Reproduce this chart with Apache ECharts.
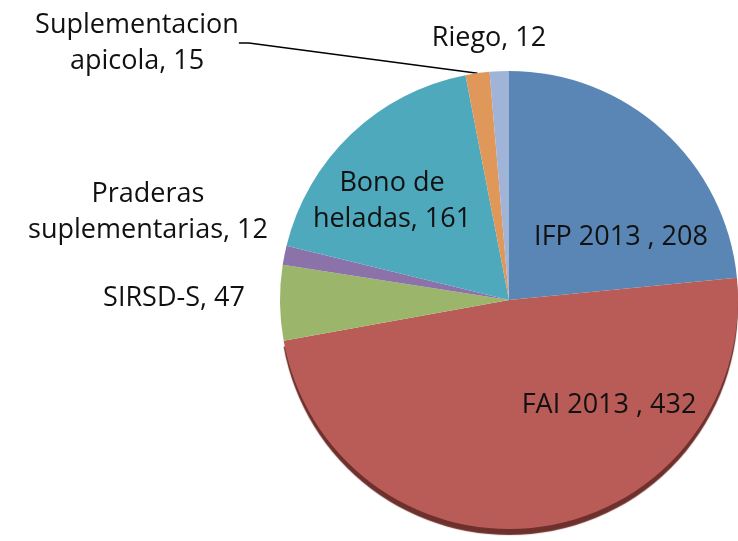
<!DOCTYPE html>
<html>
<head>
<meta charset="utf-8">
<script src="https://cdn.jsdelivr.net/npm/echarts@6/dist/echarts.min.js"></script>
<style>
  html, body { margin: 0; padding: 0; background: #fff; }
  #chart { width: 738px; height: 541px; }
</style>
</head>
<body>
<div id="chart"></div>
<script>
// datos del gráfico (sentido horario desde las 12)
const categories = ['IFP 2013 ', 'FAI 2013 ', 'SIRSD-S', 'Praderas\nsuplementarias', 'Bono de\nheladas', 'Suplementacion\napicola', 'Riego'];
const values = [208, 432, 47, 12, 161, 15, 12];
const colors = ['#5a86b5', '#b95c58', '#9bb56a', '#8b72a8', '#4ea9bd', '#e0975a', '#a0b4d8'];

// posición de cada etiqueta (centro del texto)
const labelPos = [
  [621, 237],
  [609, 405],
  [174, 298],
  [148, 212],
  [392, 201],
  [137, 43],
  [489, 38]
];

const chart = echarts.init(document.getElementById('chart'), null, { renderer: 'canvas' });

chart.setOption({
  animation: false,
  series: [{
    type: 'pie',
    center: [509, 300],
    radius: 229,
    startAngle: 90,
    clockwise: true,
    avoidLabelOverlap: false,
    data: categories.map((name, i) => ({
      name: name,
      value: values[i],
      itemStyle: i === 1 ? {
        color: colors[i],
        shadowColor: '#6e302c',
        shadowOffsetY: 6,
        shadowBlur: 1
      } : { color: colors[i] },
      labelLine: { show: i === 5 }
    })),
    itemStyle: { borderWidth: 0 },
    label: {
      show: true,
      position: 'outside',
      formatter: '{b}, {c}',
      color: '#111',
      fontFamily: 'Open Sans',
      fontSize: 27,
      lineHeight: 36,
      align: 'center'
    },
    labelLine: {
      show: true,
      length: 10,
      length2: 10,
      lineStyle: { color: '#000', width: 1.5 }
    },
    labelLayout: function (params) {
      const p = labelPos[params.dataIndex];
      return { x: p[0], y: p[1], align: 'center', verticalAlign: 'middle' };
    }
  }]
});
</script>
</body>
</html>
